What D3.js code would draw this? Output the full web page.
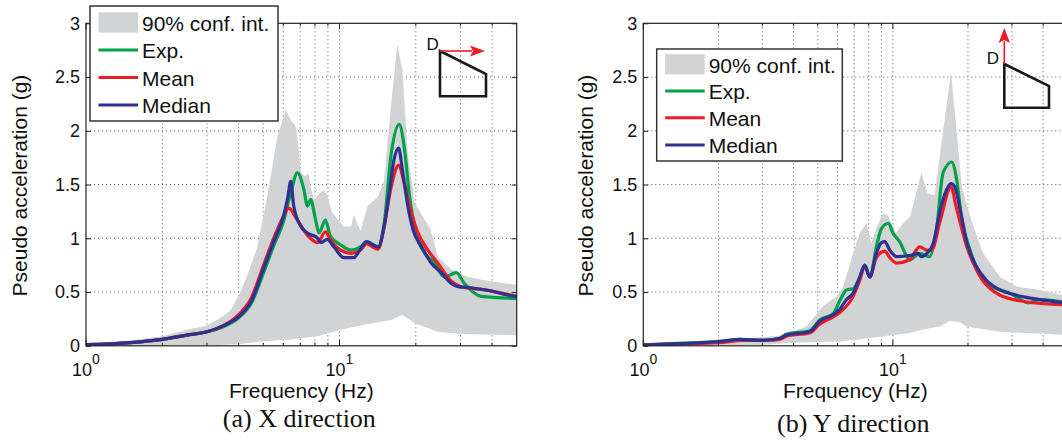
<!DOCTYPE html>
<html><head><meta charset="utf-8">
<script src="https://cdn.jsdelivr.net/npm/d3@7"></script>
<style>
body{margin:0;background:#fff}
svg{display:block}
text{font-family:"Liberation Sans",Arial,Helvetica,sans-serif;fill:#111}
</style>
</head><body>
<svg id="chart" width="1062" height="441"></svg>
<script>
// ---------- data ----------
const freqDomain = [1, 50];
const yDomain = [0, 3];
const yTicks = [0, 0.5, 1, 1.5, 2, 2.5, 3];
const yTickLabels = ["0", "0.5", "1", "1.5", "2", "2.5", "3"];
const xMajorTicks = [1, 10];
const xMajorExponents = ["0", "1"];
const xMinorTicks = [2, 3, 4, 5, 6, 7, 8, 9, 20, 30, 40];
const legendLabels = ["90% conf. int.", "Exp.", "Mean", "Median"];
const xlabel = "Frequency (Hz)";
const ylabel = "Pseudo acceleration (g)";
const captions = ["(a) X direction", "(b) Y direction"];

// X direction: [frequency Hz, pseudo acceleration g]
const xUpper = [[1,0.02],[1.5,0.05],[2,0.09],[2.5,0.15],[3,0.19],[3.4,0.26],[3.72,0.33],[4.07,0.5],[4.4,0.7],[4.74,0.92],[5.19,1.39],[5.69,1.95],[6.0,2.12],[6.14,2.2],[6.42,2.1],[6.7,2.05],[6.9,1.85],[7.04,1.61],[7.3,1.58],[7.55,1.6],[7.75,1.45],[7.95,1.36],[8.2,1.4],[8.66,1.45],[8.95,1.4],[9.3,1.25],[9.8,1.18],[10.4,1.11],[11.1,1.11],[11.4,1.22],[11.7,1.15],[12.1,1.07],[12.9,1.3],[14.2,1.39],[15,1.54],[16,2.26],[16.9,2.8],[17.7,2.57],[18.6,1.79],[19.8,1.33],[21.7,1.17],[22.9,1.08],[24.4,0.83],[27.6,0.71],[32,0.64],[37.3,0.61],[45,0.58],[50,0.57]];
const xLower = [[1,0.0],[3,0.005],[4,0.015],[4.5,0.03],[5.5,0.05],[6.5,0.06],[8.2,0.09],[10.1,0.15],[12.8,0.2],[16,0.24],[17.7,0.29],[19.8,0.21],[24.4,0.13],[30,0.11],[50,0.10]];
const xExp = [[1,0.01],[1.3,0.02],[1.5,0.03],[2,0.06],[2.5,0.1],[3,0.13],[3.5,0.18],[4,0.26],[4.5,0.4],[5,0.67],[5.5,0.93],[6,1.15],[6.42,1.42],[6.82,1.61],[7.24,1.45],[7.47,1.3],[7.7,1.36],[8.05,1.17],[8.3,1.05],[8.8,1.17],[9.2,1.02],[10.1,0.94],[11.1,0.89],[12.1,0.92],[12.8,0.97],[14.2,0.92],[15,1.14],[16,1.79],[17.2,2.06],[18,1.85],[18.9,1.39],[20,1.05],[21.7,0.86],[23.7,0.77],[25.9,0.64],[28.9,0.68],[31.1,0.58],[36.3,0.46],[50,0.44]];
const xMean = [[1,0.01],[1.5,0.03],[2,0.06],[2.5,0.1],[3,0.13],[3.5,0.19],[4,0.29],[4.5,0.45],[5,0.74],[5.5,1.0],[6,1.2],[6.3,1.28],[6.82,1.17],[7.47,1.03],[8.2,0.96],[8.8,1.06],[9.2,0.99],[10.1,0.89],[11.1,0.86],[12.1,0.89],[12.8,0.95],[13.3,0.93],[14.2,0.9],[15,1.11],[16,1.48],[17.1,1.68],[18,1.51],[18.9,1.3],[20.4,1.05],[22.3,0.89],[24.4,0.77],[27.6,0.6],[30.2,0.55],[37.3,0.52],[50,0.46]];
const xMedian = [[1,0.01],[1.5,0.03],[2,0.06],[2.5,0.1],[3,0.13],[3.5,0.19],[4,0.27],[4.5,0.42],[5,0.71],[5.5,0.97],[6,1.2],[6.25,1.38],[6.42,1.53],[6.6,1.3],[7.04,1.11],[7.47,1.05],[8.2,1.0],[8.44,0.96],[8.95,0.99],[9.5,0.92],[10.4,0.82],[11.4,0.82],[11.8,0.86],[12.8,0.97],[13.3,0.95],[14.2,0.92],[15,1.11],[15.7,1.42],[16.4,1.73],[17.1,1.84],[17.7,1.64],[18.6,1.3],[19.5,1.08],[21.1,0.92],[23,0.77],[25.2,0.68],[27.6,0.58],[29.3,0.55],[33,0.54],[39.8,0.51],[46.4,0.47],[50,0.46]];

// Y direction
const yUpper = [[1,0.01],[2,0.04],[2.5,0.07],[3,0.08],[3.64,0.1],[4.51,0.18],[5.26,0.37],[5.95,0.46],[6.32,0.55],[6.93,0.86],[7.37,1.05],[7.84,1.14],[8.2,0.95],[8.6,1.1],[9.1,1.23],[9.5,1.22],[10.3,1.05],[11,1.14],[11.7,1.2],[12.4,1.42],[13.0,1.61],[13.8,1.42],[14.7,1.4],[15.9,2.0],[17.1,2.55],[18.0,2.0],[18.9,1.48],[20.4,1.2],[23,0.86],[26.9,0.64],[31.3,0.55],[38.7,0.52],[50,0.46]];
const yLower = [[1,0.0],[3,0.01],[4.24,0.03],[6.13,0.04],[8,0.07],[10,0.1],[11.7,0.12],[13,0.15],[15.4,0.18],[16.9,0.23],[18.6,0.22],[19.7,0.18],[26.9,0.13],[50,0.1]];
const yExp = [[1,0.01],[1.6,0.03],[2,0.04],[2.5,0.06],[3.12,0.05],[3.53,0.07],[3.75,0.11],[4.64,0.14],[5.09,0.24],[5.77,0.3],[6.13,0.42],[6.52,0.52],[6.93,0.53],[7.37,0.64],[7.72,0.75],[8.08,0.64],[8.59,0.92],[9.0,1.09],[9.6,1.14],[10.0,1.05],[10.7,0.96],[11.2,0.86],[11.7,0.8],[12.8,0.86],[14.0,0.83],[14.9,1.05],[15.9,1.61],[17.2,1.71],[18.0,1.55],[18.9,1.17],[20.4,0.89],[23.7,0.57],[26.9,0.52],[29.4,0.49],[34.9,0.4],[38.7,0.43],[50,0.4]];
const yMean = [[1,0.01],[2,0.03],[2.5,0.05],[3.12,0.05],[3.53,0.06],[3.75,0.09],[4.64,0.12],[5.09,0.2],[5.77,0.27],[6.13,0.31],[6.93,0.46],[7.37,0.61],[7.72,0.74],[8.08,0.64],[8.59,0.82],[9.28,0.88],[9.72,0.82],[10.35,0.77],[11.7,0.8],[12.1,0.85],[12.8,0.92],[13.7,0.89],[14.3,0.89],[15.5,1.17],[17.1,1.48],[17.9,1.3],[19.8,0.92],[21.6,0.71],[26.9,0.47],[34,0.41],[50,0.38]];
const yMedian = [[1,0.01],[2,0.04],[2.44,0.06],[2.93,0.05],[3.53,0.07],[3.75,0.1],[4.64,0.13],[5.09,0.23],[5.77,0.29],[6.13,0.34],[6.52,0.43],[6.93,0.49],[7.37,0.64],[7.72,0.75],[8.08,0.64],[8.59,0.86],[9.0,0.96],[9.28,0.97],[9.72,0.89],[10.35,0.83],[11.7,0.84],[12.6,0.86],[13.0,0.83],[13.7,0.86],[14.5,0.95],[15.5,1.27],[16.4,1.45],[17.1,1.51],[17.7,1.48],[18.6,1.27],[19.8,0.96],[21.6,0.74],[23.7,0.61],[26.9,0.52],[31.3,0.47],[38.7,0.43],[50,0.4]];

// ---------- styles / layout ----------
const C = {band:"#d1d3d4", exp:"#00a14b", mean:"#ed1c24", median:"#2e3192", axis:"#222", grid:"#555"};
const svg = d3.select("#chart");

const panels = [
  {x0:86, y0:23.3, w:430.7, h:322.5, band:[xUpper,xLower], exp:xExp, mean:xMean, median:xMedian,
   caption:captions[0], capY:427, ylabX:26.5,
   legend:{x:90, y:6, w:188, h:115, rowY:[22.5,50,77.5,105]},
   icon:{dir:"x", px:440, py:51, rx:486, ry1:74, ry2:96.3}},
  {x0:643.3, y0:23.3, w:424, h:322.5, band:[yUpper,yLower], exp:yExp, mean:yMean, median:yMedian,
   caption:captions[1], capY:432, ylabX:593,
   legend:{x:656.7, y:49, w:185.6, h:112, rowY:[64.3,91,117.7,145]},
   icon:{dir:"y", px:1004.3, py:64, rx:1049, ry1:86, ry2:107.7}}
];

panels.forEach((P, i) => {
  const x = d3.scaleLog().domain(freqDomain).range([P.x0, P.x0 + P.w]);
  const y = d3.scaleLinear().domain(yDomain).range([P.y0 + P.h, P.y0]);
  const g = svg.append("g");

  const clipId = "clip" + i;
  svg.append("clipPath").attr("id", clipId).append("rect")
    .attr("x", P.x0).attr("y", P.y0).attr("width", P.w).attr("height", P.h);

  // grid
  const grid = g.append("g").attr("stroke", C.grid).attr("stroke-width", 1)
    .attr("stroke-dasharray", "1,3");
  yTicks.filter(v => v > yDomain[0] && v < yDomain[1]).forEach(v => {
    grid.append("line").attr("x1", P.x0).attr("x2", P.x0 + P.w)
      .attr("y1", y(v)).attr("y2", y(v));
  });
  xMinorTicks.concat([10]).forEach(v => {
    grid.append("line").attr("x1", x(v)).attr("x2", x(v))
      .attr("y1", P.y0).attr("y2", P.y0 + P.h);
  });

  const plot = g.append("g").attr("clip-path", `url(#${clipId})`);
  const bandLine = d3.line().x(d => x(d[0])).y(d => y(d[1])).curve(d3.curveLinear);
  const line = d3.line().x(d => x(d[0])).y(d => y(d[1])).curve(d3.curveMonotoneX);

  // confidence band
  const [up, lo] = P.band;
  plot.append("path")
    .attr("d", bandLine(up.concat(lo.slice().reverse())) + "Z")
    .attr("fill", C.band).attr("stroke", "none");

  [[P.exp, C.exp], [P.mean, C.mean], [P.median, C.median]].forEach(([d, col]) => {
    plot.append("path").attr("d", line(d)).attr("fill", "none")
      .attr("stroke", col).attr("stroke-width", 3.2)
      .attr("stroke-linejoin", "round").attr("stroke-linecap", "round");
  });

  // axes
  const yAxisL = d3.axisLeft(y).tickValues(yTicks).tickSize(-5).tickPadding(6)
    .tickFormat((d, k) => yTickLabels[k]);
  const ga = g.append("g").attr("transform", `translate(${P.x0},0)`).call(yAxisL);
  ga.select(".domain").remove();
  ga.selectAll("line").attr("stroke", C.axis);
  ga.selectAll("text").attr("font-size", 18).attr("fill", "#111")
    .attr("font-family", "Liberation Sans, Arial, sans-serif");

  const yAxisR = d3.axisRight(y).tickValues(yTicks).tickSize(-5).tickFormat("");
  const gr = g.append("g").attr("transform", `translate(${P.x0 + P.w},0)`).call(yAxisR);
  gr.select(".domain").remove();
  gr.selectAll("line").attr("stroke", C.axis);

  const ticksG = g.append("g").attr("stroke", C.axis).attr("stroke-width", 1);
  xMajorTicks.forEach(v => {
    ticksG.append("line").attr("x1", x(v)).attr("x2", x(v)).attr("y1", P.y0 + P.h).attr("y2", P.y0 + P.h - 6);
    ticksG.append("line").attr("x1", x(v)).attr("x2", x(v)).attr("y1", P.y0).attr("y2", P.y0 + 6);
  });
  xMinorTicks.forEach(v => {
    ticksG.append("line").attr("x1", x(v)).attr("x2", x(v)).attr("y1", P.y0 + P.h).attr("y2", P.y0 + P.h - 3);
    ticksG.append("line").attr("x1", x(v)).attr("x2", x(v)).attr("y1", P.y0).attr("y2", P.y0 + 3);
  });

  xMajorTicks.forEach((v, k) => {
    const t = g.append("text").attr("x", x(v)).attr("y", P.y0 + P.h + 30.5)
      .attr("text-anchor", "middle").attr("font-size", 18);
    t.append("tspan").text("10");
    t.append("tspan").attr("dy", -12).attr("font-size", 14).text(xMajorExponents[k]);
  });

  // frame
  g.append("rect").attr("x", P.x0).attr("y", P.y0).attr("width", P.w).attr("height", P.h)
    .attr("fill", "none").attr("stroke", C.axis).attr("stroke-width", 1.2);

  // labels
  g.append("text").attr("x", P.x0 + P.w / 2).attr("y", 398)
    .attr("text-anchor", "middle").attr("font-size", 21).text(xlabel);
  g.append("text").attr("transform", `translate(${P.ylabX},${P.y0 + P.h / 2 + 1}) rotate(-90)`)
    .attr("text-anchor", "middle").attr("font-size", 21).text(ylabel);
  g.append("text").attr("x", P.x0 + P.w / 2 - 2).attr("y", P.capY)
    .attr("text-anchor", "middle").attr("font-size", 26)
    .style("font-family", "'Liberation Serif','Times New Roman',serif").text(P.caption);

  // legend
  const L = P.legend;
  const lg = g.append("g");
  lg.append("rect").attr("x", L.x).attr("y", L.y).attr("width", L.w).attr("height", L.h)
    .attr("fill", "#fff").attr("stroke", "#333").attr("stroke-width", 1.5);
  const px0 = L.x + 8.5, px1 = L.x + 48;
  lg.append("rect").attr("x", px0).attr("y", L.rowY[0] - 10.2).attr("width", px1 - px0).attr("height", 20.4)
    .attr("fill", C.band);
  [C.exp, C.mean, C.median].forEach((col, k) => {
    lg.append("line").attr("x1", px0).attr("x2", px1)
      .attr("y1", L.rowY[k + 1]).attr("y2", L.rowY[k + 1])
      .attr("stroke", col).attr("stroke-width", 3);
  });
  legendLabels.forEach((lab, k) => {
    lg.append("text").attr("x", px1 + 4).attr("y", L.rowY[k] + 8.3)
      .attr("font-size", 21).text(lab);
  });

  // direction icon
  const I = P.icon;
  const ic = g.append("g");
  ic.append("path")
    .attr("d", `M${I.px},${I.py}L${I.rx},${I.ry1}L${I.rx},${I.ry2}L${I.px},${I.ry2}Z`)
    .attr("fill", "none").attr("stroke", "#1a1a1a").attr("stroke-width", 2.6)
    .attr("stroke-linejoin", "miter");
  if (I.dir === "x") {
    ic.append("line").attr("x1", I.px).attr("y1", I.py).attr("x2", I.px + 32).attr("y2", I.py)
      .attr("stroke", C.mean).attr("stroke-width", 1.6);
    ic.append("path").attr("d", `M${I.px + 45},${I.py}L${I.px + 30},${I.py - 5.5}L${I.px + 33},${I.py}L${I.px + 30},${I.py + 5.5}Z`)
      .attr("fill", C.mean);
    ic.append("text").attr("x", I.px - 13.5).attr("y", I.py - 1).attr("font-size", 17).text("D");
  } else {
    ic.append("line").attr("x1", I.px).attr("y1", I.py).attr("x2", I.px).attr("y2", I.py - 23)
      .attr("stroke", C.mean).attr("stroke-width", 1.6);
    ic.append("path").attr("d", `M${I.px},${I.py - 36}L${I.px - 5.7},${I.py - 21}L${I.px},${I.py - 24}L${I.px + 5.7},${I.py - 21}Z`)
      .attr("fill", C.mean);
    ic.append("text").attr("x", I.px - 17.6).attr("y", I.py).attr("font-size", 17).text("D");
  }
});
</script>
</body></html>
